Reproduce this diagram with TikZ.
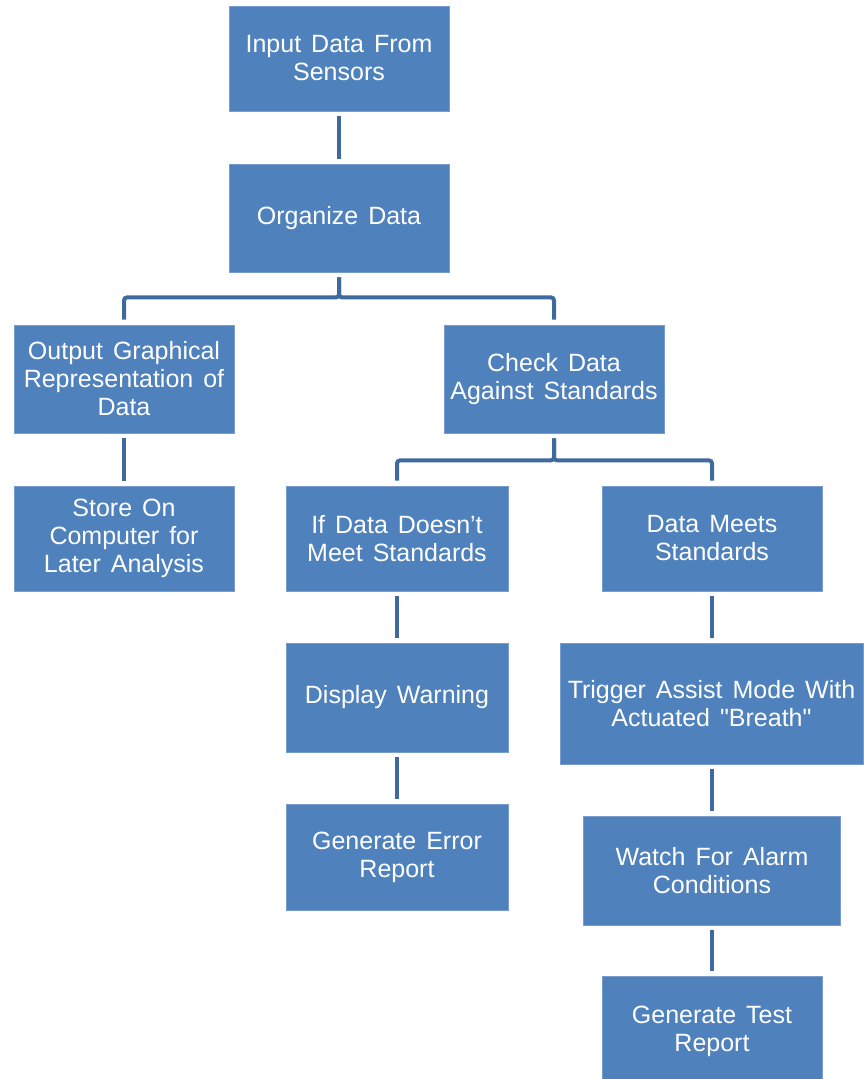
\documentclass[tikz,border=0pt]{standalone}
\usepackage{fontspec}
\setmainfont{Liberation Sans}[Ligatures=TeXOff]
\definecolor{boxblue}{RGB}{79,129,189}
\definecolor{boxedge}{RGB}{120,156,206}
\definecolor{linkblue}{RGB}{62,106,160}
\newcommand{\boxtextfont}{\fontsize{25}{28}\selectfont\spaceskip=0.4em plus 0.1em\relax}
\tikzset{
  box/.style={fill=boxblue, draw=boxedge, line width=0.8pt, text=white,
    inner sep=0pt, align=center, font=\boxtextfont},
  link/.style={draw=linkblue, line width=4pt, rounded corners=3pt,
    shorten <=5pt, shorten >=5pt},
}
\begin{document}
\begin{tikzpicture}[x=1pt,y=-1pt]
\useasboundingbox (0,0) rectangle (863,1079);
% boxes
\node[box, minimum width=220pt, minimum height=105pt] (inp) at (339,58.5) {Input Data From\\Sensors};
\node[box, minimum width=220pt, minimum height=108pt] (org) at (339,218) {Organize Data};
\node[box, minimum width=220pt, minimum height=108pt] (out) at (124,379) {Output Graphical\\Representation of\\Data};
\node[box, minimum width=220pt, minimum height=108pt] (chk) at (554,379) {Check Data\\Against Standards};
\node[box, minimum width=220pt, minimum height=105pt] (sto) at (124,538.5) {Store On\\Computer for\\Later Analysis};
\node[box, minimum width=222pt, minimum height=105pt] (bad) at (397,538.5) {If Data Doesn’t\\Meet Standards};
\node[box, minimum width=220pt, minimum height=105pt] (good) at (712,538.5) {Data Meets\\Standards};
\node[box, minimum width=222pt, minimum height=109pt] (warn) at (397,697.5) {Display Warning};
\node[box, minimum width=222pt, minimum height=106pt] (err) at (397,857) {Generate Error\\Report};
\node[box, minimum width=303pt, minimum height=121pt] (trig) at (711.5,703.5) {Trigger Assist Mode With\\Actuated "Breath"};
\node[box, minimum width=257pt, minimum height=109pt] (watch) at (712,870.5) {Watch For Alarm\\Conditions};
\node[box, minimum width=220pt, minimum height=110pt] (test) at (712,1031) {Generate Test\\Report};
% connectors
\draw[link] (inp) -- (org);
\draw[link] (org.south) -- ++(0,25) -| (out.north);
\draw[link] (org.south) -- ++(0,25) -| (chk.north);
\draw[link] (out) -- (sto);
\draw[link] (chk.south) -- ++(0,27) -| (bad.north);
\draw[link] (chk.south) -- ++(0,27) -| (good.north);
\draw[link] (bad) -- (warn);
\draw[link] (warn) -- (err);
\draw[link] (good) -- (good |- trig.north);
\draw[link] (trig.south -| watch) -- (watch);
\draw[link] (watch) -- (test);
\end{tikzpicture}
\end{document}
